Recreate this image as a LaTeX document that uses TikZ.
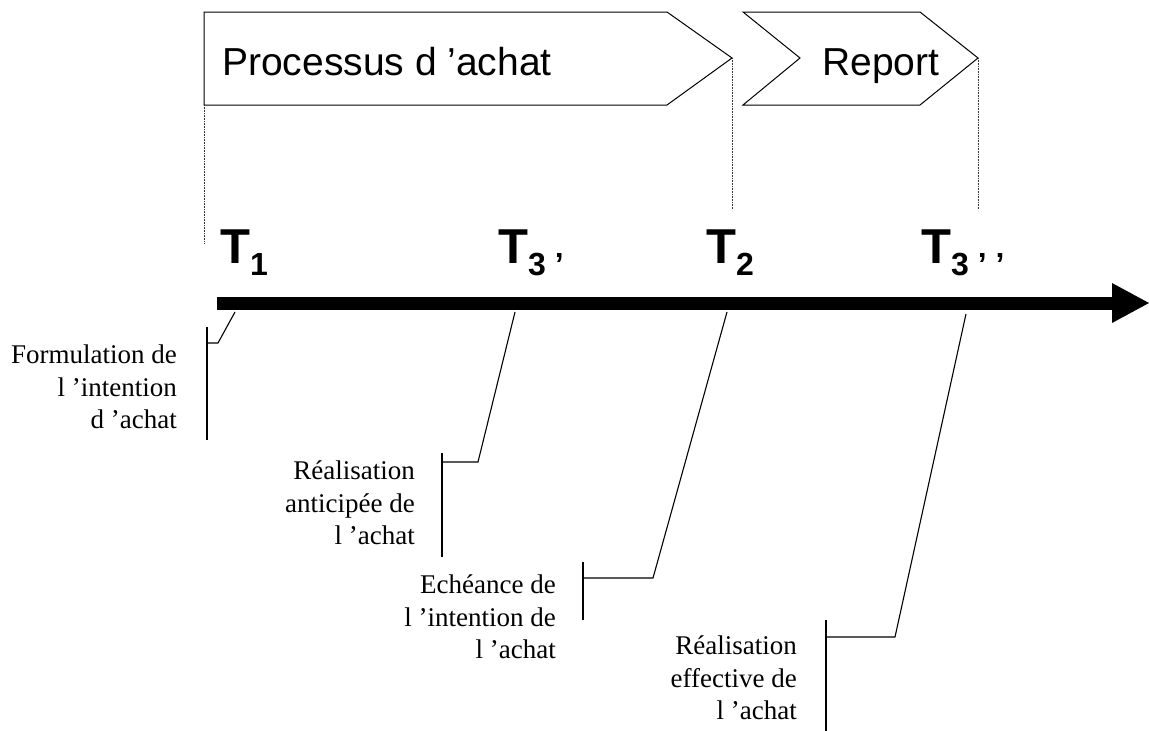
\documentclass[tikz,border=0pt]{standalone}
\usepackage{fontspec}
\setmainfont{Liberation Serif}
\setsansfont{Liberation Sans}
\begin{document}
\begin{tikzpicture}[x=1pt,y=-1pt,
  chev/.style={draw=black,line width=1pt,fill=white,line join=miter},
  guide/.style={draw=black!80,line width=0.8pt,dash pattern=on 0.8pt off 0.8pt},
  leader/.style={draw=black,line width=1.1pt},
  bigtxt/.style={font=\sffamily\fontsize{39}{39}\selectfont,inner sep=0pt},
  tlabel/.style={font=\sffamily\bfseries,inner sep=0pt,anchor=base west},
  note/.style={font=\fontsize{27}{32.5}\selectfont,align=right,inner sep=0pt,anchor=east}]
\newcommand\tlab[1]{{\fontsize{49}{49}\selectfont T}\raisebox{-12pt}{\fontsize{32}{32}\selectfont #1}}
\useasboundingbox (0,0) rectangle (1149,731);
% chevrons
\coordinate (p1) at (732,58);
\coordinate (p2) at (978,58);
\coordinate (b1) at (204,105);
\draw[chev] (204,12) -- (667,12) -- (p1) -- (667,105) -- (b1) -- cycle;
\draw[chev] (743,12) -- (920,12) -- (p2) -- (920,105) -- (743,105) -- (800,58) -- cycle;
\node[bigtxt,anchor=base west] (proc) at (222,75) {Processus d ’achat};
\node[bigtxt,anchor=base west] (rep) at (822,75) {Report};
% dotted guides
\coordinate (g1) at (204,243);
\coordinate (g2) at (732,210);
\coordinate (g3) at (978,210);
\draw[guide] (b1) -- (g1);
\draw[guide] (p1) -- (g2);
\draw[guide] (p2) -- (g3);
% time labels
\node[tlabel] (t1) at (220,263) {\tlab{1}};
\node[tlabel] (t3a) at (498,263) {\tlab{3 ’}};
\node[tlabel] (t2) at (706,263) {\tlab{2}};
\node[tlabel] (t3b) at (921,263) {\tlab{3 ’ ’}};
% axis
\coordinate (ax0) at (217,303);
\coordinate (ax1) at (1113,303);
\draw[line width=13pt] (ax0) -- (ax1);
\fill (1112,283) -- (1149,303) -- (1112,323) -- cycle;
% notes
\node[note] (n1) at (177,387) {Formulation de\\l ’intention\\d ’achat};
\node[note] (n2) at (415,503) {Réalisation\\anticipée de\\l ’achat};
\node[note] (n3) at (556,617) {Echéance de\\l ’intention de\\l ’achat};
\node[note] (n4) at (797,678) {Réalisation\\effective de\\l ’achat};
% leaders
\coordinate (a1) at (235,312); \coordinate (k1) at (218,343); \coordinate (h1) at (207,343);
\coordinate (a2) at (515,312); \coordinate (k2) at (478,462); \coordinate (h2) at (442,462);
\coordinate (a3) at (727,312); \coordinate (k3) at (653,578); \coordinate (h3) at (583,578);
\coordinate (a4) at (966,314); \coordinate (k4) at (895,637); \coordinate (h4) at (826,637);
\draw[leader] (a1) -- (k1) -- (h1);
\draw[leader] (a2) -- (k2) -- (h2);
\draw[leader] (a3) -- (k3) -- (h3);
\draw[leader] (a4) -- (k4) -- (h4);
\coordinate (v1a) at (207,327); \coordinate (v1b) at (207,440);
\coordinate (v2a) at (442,453); \coordinate (v2b) at (442,557);
\coordinate (v3a) at (583,562); \coordinate (v3b) at (583,620);
\coordinate (v4a) at (826,620); \coordinate (v4b) at (826,731);
\draw[leader] (v1a) -- (v1b);
\draw[leader] (v2a) -- (v2b);
\draw[leader] (v3a) -- (v3b);
\draw[leader] (v4a) -- (v4b);
\end{tikzpicture}
\end{document}
